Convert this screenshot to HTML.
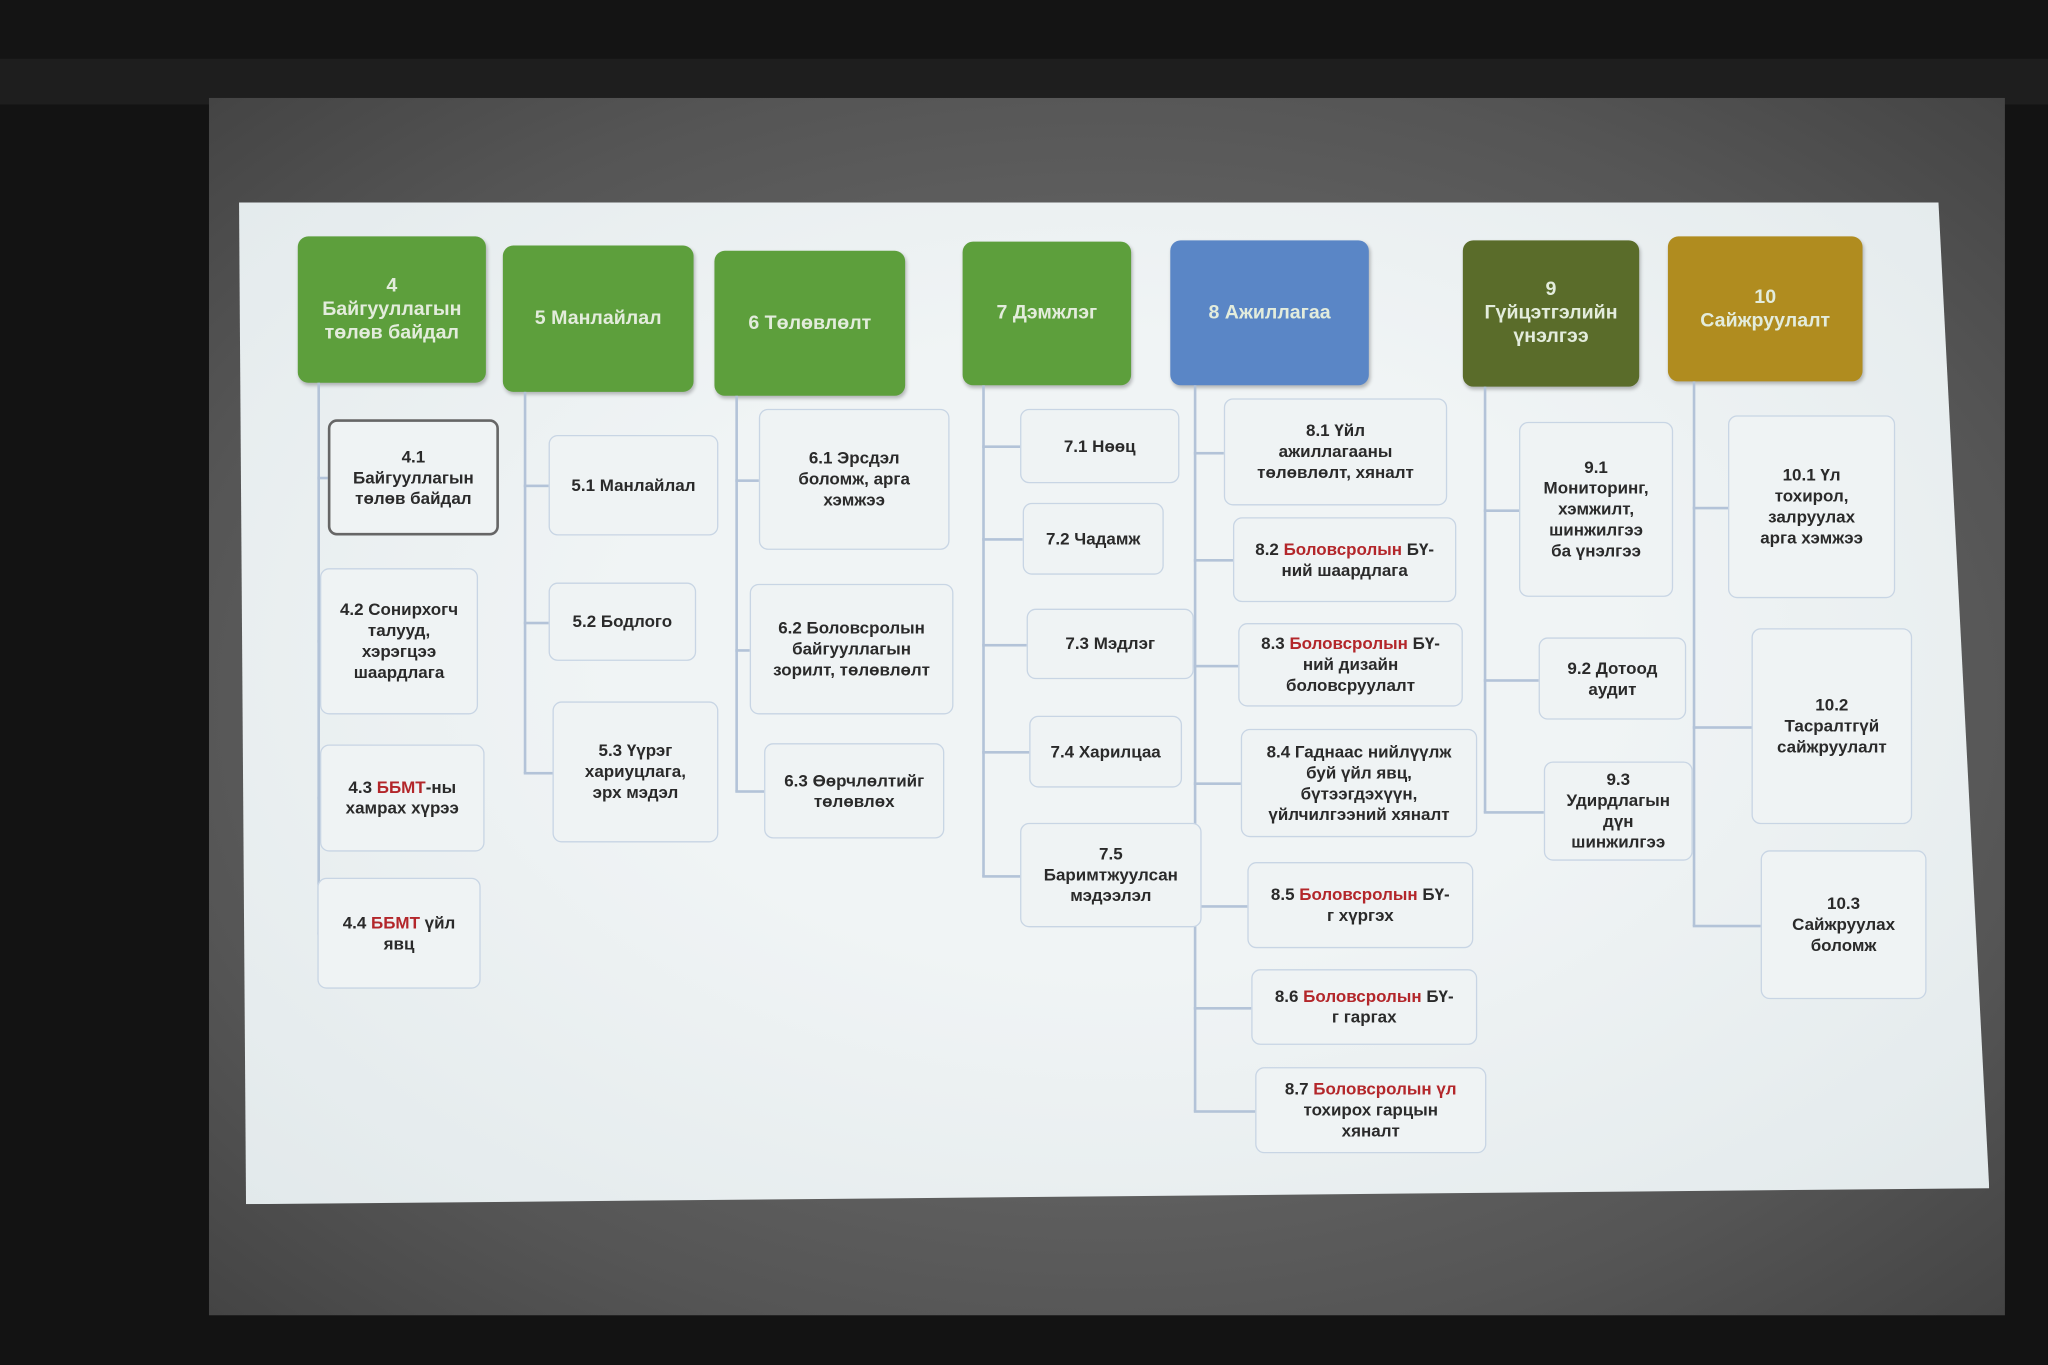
<!DOCTYPE html>
<html><head><meta charset="utf-8">
<style>
html,body{margin:0;padding:0;background:#111;}
body{width:2048px;height:1365px;overflow:hidden;position:relative;}
#s{position:absolute;left:0;top:0;width:1568px;height:1045px;transform:scale(1.30612);transform-origin:0 0;background:#131313;}
.abs{position:absolute;}
.hd{position:absolute;border-radius:8px;color:#e3ecdc;font:bold 15px/18px "Liberation Sans","DejaVu Sans",sans-serif;display:flex;align-items:center;justify-content:center;text-align:center;box-shadow:1px 2px 3px rgba(0,0,0,.25);}
.bx{position:absolute;border:1.5px solid #c8d5e4;border-radius:7px;background:#eff3f4;color:#2a2a2a;font:bold 13px/16px "Liberation Sans","DejaVu Sans",sans-serif;display:flex;align-items:center;justify-content:center;text-align:center;box-sizing:border-box;padding:0 4px;}
.r{color:#b3262a;}
.v{position:absolute;width:2px;background:#b3c3d8;}
.h{position:absolute;height:2px;background:#b3c3d8;}
</style></head><body>
<div id="s">
<div class="abs" style="left:0;top:0;width:1568px;height:45px;background:#141414"></div>
<div class="abs" style="left:0;top:45px;width:1568px;height:35px;background:#1e1e1e"></div>
<div class="abs" style="left:160px;top:75px;width:1375px;height:932px;background:radial-gradient(ellipse at 50% 50%,#7a7a7a,#555 75%,#444);"></div>
<div class="abs" style="left:183px;top:155px;width:1340px;height:767px;background:radial-gradient(ellipse at 50% 45%,#f0f4f5 40%,#e2e9eb 100%);clip-path:polygon(0 0,97.1% 0,100% 98.4%,0.4% 100%);"></div>

<div class="hd" style="left:228px;top:181px;width:144px;height:112px;background:#5d9f3c">4<br>Байгууллагын<br>төлөв байдал</div>
<div class="hd" style="left:385px;top:188px;width:146px;height:112px;background:#5d9f3c">5 Манлайлал</div>
<div class="hd" style="left:547px;top:192px;width:146px;height:111px;background:#5d9f3c">6 Төлөвлөлт</div>
<div class="hd" style="left:737px;top:185px;width:129px;height:110px;background:#5d9f3c">7 Дэмжлэг</div>
<div class="hd" style="left:896px;top:184px;width:152px;height:111px;background:#5a86c6">8 Ажиллагаа</div>
<div class="hd" style="left:1120px;top:184px;width:135px;height:112px;background:#5a6c2a">9<br>Гүйцэтгэлийн<br>үнэлгээ</div>
<div class="hd" style="left:1277px;top:181px;width:149px;height:111px;background:#b08c1f">10<br>Сайжруулалт</div>

<div class="v" style="left:243px;top:293px;height:422px"></div>
<div class="h" style="left:243px;top:365px;width:8px"></div>
<div class="h" style="left:243px;top:490px;width:3px"></div>
<div class="h" style="left:243px;top:610px;width:3px"></div>
<div class="h" style="left:243px;top:714px;width:1px"></div>

<div class="v" style="left:401px;top:300px;height:292px"></div>
<div class="h" style="left:401px;top:371px;width:19px"></div>
<div class="h" style="left:401px;top:476px;width:19px"></div>
<div class="h" style="left:401px;top:591px;width:22px"></div>

<div class="v" style="left:563px;top:303px;height:303px"></div>
<div class="h" style="left:563px;top:367px;width:18px"></div>
<div class="h" style="left:563px;top:497px;width:11px"></div>
<div class="h" style="left:563px;top:605px;width:22px"></div>

<div class="v" style="left:752px;top:295px;height:376px"></div>
<div class="h" style="left:752px;top:341px;width:29px"></div>
<div class="h" style="left:752px;top:412px;width:31px"></div>
<div class="h" style="left:752px;top:493px;width:34px"></div>
<div class="h" style="left:752px;top:575px;width:36px"></div>
<div class="h" style="left:752px;top:670px;width:29px"></div>

<div class="v" style="left:914px;top:295px;height:556px"></div>
<div class="h" style="left:914px;top:346px;width:23px"></div>
<div class="h" style="left:914px;top:428px;width:30px"></div>
<div class="h" style="left:914px;top:509px;width:34px"></div>
<div class="h" style="left:914px;top:599px;width:36px"></div>
<div class="h" style="left:914px;top:693px;width:41px"></div>
<div class="h" style="left:914px;top:771px;width:44px"></div>
<div class="h" style="left:914px;top:850px;width:47px"></div>

<div class="v" style="left:1136px;top:296px;height:326px"></div>
<div class="h" style="left:1136px;top:390px;width:27px"></div>
<div class="h" style="left:1136px;top:520px;width:42px"></div>
<div class="h" style="left:1136px;top:621px;width:46px"></div>

<div class="v" style="left:1296px;top:292px;height:417px"></div>
<div class="h" style="left:1296px;top:388px;width:27px"></div>
<div class="h" style="left:1296px;top:556px;width:45px"></div>
<div class="h" style="left:1296px;top:708px;width:52px"></div>

<div class="bx" style="left:251px;top:321px;width:131px;height:89px;border:2px solid #666">4.1<br>Байгууллагын<br>төлөв байдал</div>
<div class="bx" style="left:245px;top:435px;width:121px;height:112px">4.2 Сонирхогч<br>талууд,<br>хэрэгцээ<br>шаардлага</div>
<div class="bx" style="left:245px;top:570px;width:126px;height:82px"><span>4.3 <span class="r">ББМТ</span>-ны<br>хамрах хүрээ</span></div>
<div class="bx" style="left:243px;top:672px;width:125px;height:85px"><span>4.4 <span class="r">ББМТ</span> үйл<br>явц</span></div>

<div class="bx" style="left:420px;top:333px;width:130px;height:77px">5.1 Манлайлал</div>
<div class="bx" style="left:420px;top:446px;width:113px;height:60px">5.2 Бодлого</div>
<div class="bx" style="left:423px;top:537px;width:127px;height:108px">5.3 Үүрэг<br>хариуцлага,<br>эрх мэдэл</div>

<div class="bx" style="left:581px;top:313px;width:146px;height:108px">6.1 Эрсдэл<br>боломж, арга<br>хэмжээ</div>
<div class="bx" style="left:574px;top:447px;width:156px;height:100px">6.2 Боловсролын<br>байгууллагын<br>зорилт,  төлөвлөлт</div>
<div class="bx" style="left:585px;top:569px;width:138px;height:73px">6.3 Өөрчлөлтийг<br>төлөвлөх</div>

<div class="bx" style="left:781px;top:313px;width:122px;height:57px">7.1 Нөөц</div>
<div class="bx" style="left:783px;top:385px;width:108px;height:55px">7.2 Чадамж</div>
<div class="bx" style="left:786px;top:466px;width:128px;height:54px">7.3 Мэдлэг</div>
<div class="bx" style="left:788px;top:548px;width:117px;height:55px">7.4 Харилцаа</div>
<div class="bx" style="left:781px;top:630px;width:139px;height:80px">7.5<br>Баримтжуулсан<br>мэдээлэл</div>

<div class="bx" style="left:937px;top:305px;width:171px;height:82px">8.1 Үйл<br>ажиллагааны<br>төлөвлөлт, хяналт</div>
<div class="bx" style="left:944px;top:396px;width:171px;height:65px"><span>8.2 <span class="r">Боловсролын</span> БҮ-<br>ний шаардлага</span></div>
<div class="bx" style="left:948px;top:477px;width:172px;height:64px"><span>8.3 <span class="r">Боловсролын</span> БҮ-<br>ний дизайн<br>боловсруулалт</span></div>
<div class="bx" style="left:950px;top:558px;width:181px;height:83px">8.4 Гаднаас нийлүүлж<br>буй үйл явц,<br>бүтээгдэхүүн,<br>үйлчилгээний хяналт</div>
<div class="bx" style="left:955px;top:660px;width:173px;height:66px"><span>8.5 <span class="r">Боловсролын</span> БҮ-<br>г хүргэх</span></div>
<div class="bx" style="left:958px;top:742px;width:173px;height:58px"><span>8.6 <span class="r">Боловсролын</span> БҮ-<br>г гаргах</span></div>
<div class="bx" style="left:961px;top:817px;width:177px;height:66px"><span>8.7 <span class="r">Боловсролын үл</span><br>тохирох гарцын<br>хяналт</span></div>

<div class="bx" style="left:1163px;top:323px;width:118px;height:134px">9.1<br>Мониторинг,<br>хэмжилт,<br>шинжилгээ<br>ба үнэлгээ</div>
<div class="bx" style="left:1178px;top:488px;width:113px;height:63px">9.2 Дотоод<br>аудит</div>
<div class="bx" style="left:1182px;top:583px;width:114px;height:76px">9.3<br>Удирдлагын<br>дүн<br>шинжилгээ</div>

<div class="bx" style="left:1323px;top:318px;width:128px;height:140px">10.1 Үл<br>тохирол,<br>залруулах<br>арга хэмжээ</div>
<div class="bx" style="left:1341px;top:481px;width:123px;height:150px">10.2<br>Тасралтгүй<br>сайжруулалт</div>
<div class="bx" style="left:1348px;top:651px;width:127px;height:114px">10.3<br>Сайжруулах<br>боломж</div>
</div>
</body></html>
